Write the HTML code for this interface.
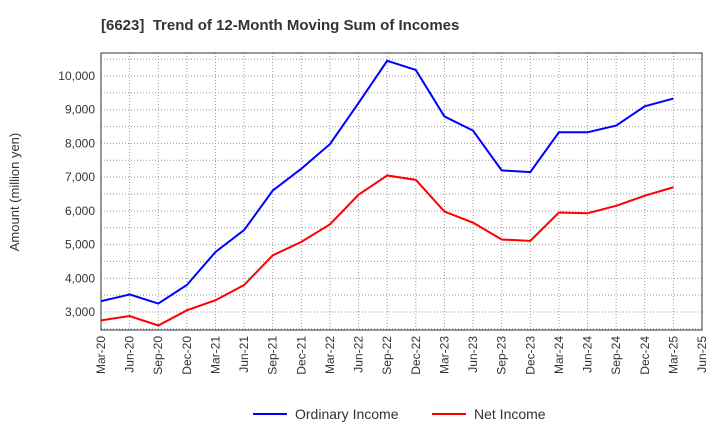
<!DOCTYPE html>
<html><head><meta charset="utf-8"><style>
body{margin:0;background:#fff;font-family:"Liberation Sans",sans-serif;}
svg text{font-family:"Liberation Sans",sans-serif;}
</style></head><body>
<svg id="chart" width="720" height="440" xmlns="http://www.w3.org/2000/svg">
<text x="101" y="30" font-size="15" font-weight="bold" fill="#333">[6623]&#160; Trend of 12-Month Moving Sum of Incomes</text>
<text transform="translate(19,192) rotate(-90)" text-anchor="middle" font-size="13" fill="#333">Amount (million yen)</text>
<g id="grid"></g><g id="axes"></g><g id="series"></g>
<g>
<line x1="253" y1="414" x2="287" y2="414" stroke="#0000ff" stroke-width="2"/>
<text x="295" y="419" font-size="14" fill="#333">Ordinary Income</text>
<line x1="432" y1="414" x2="466" y2="414" stroke="#ff0000" stroke-width="2"/>
<text x="474" y="419" font-size="14" fill="#333">Net Income</text>
</g>
</svg>
<script>
const categories=["Mar-20","Jun-20","Sep-20","Dec-20","Mar-21","Jun-21","Sep-21","Dec-21","Mar-22","Jun-22","Sep-22","Dec-22","Mar-23","Jun-23","Sep-23","Dec-23","Mar-24","Jun-24","Sep-24","Dec-24","Mar-25","Jun-25"];
const ordinaryIncome=[3320,3520,3250,3800,4780,5430,6600,7250,7980,9200,10450,10180,8800,8380,7200,7150,8330,8330,8530,9100,9330];
const netIncome=[2750,2880,2600,3050,3350,3800,4680,5080,5600,6480,7050,6920,5980,5650,5150,5110,5950,5930,6150,6450,6700];
const yTicks=[3000,4000,5000,6000,7000,8000,9000,10000];
const NS="http://www.w3.org/2000/svg";
const L=101,R=702,T=53,B=330,yMin=2466,yMax=10682;
const x=i=>L+(R-L)*i/(categories.length-1);
const y=v=>B-(v-yMin)/(yMax-yMin)*(B-T);
function mk(tag,attrs,parent){const e=document.createElementNS(NS,tag);for(const k in attrs)e.setAttribute(k,attrs[k]);parent.appendChild(e);return e;}
const grid=document.getElementById('grid'),axes=document.getElementById('axes'),series=document.getElementById('series');
for(let i=1;i<categories.length-1;i++){const l=mk('line',{x1:x(i),x2:x(i),y1:T,y2:B,stroke:'#999','stroke-dasharray':'1,2'},grid);

}
for(let v=2500;v<=10500;v+=500){const l=mk('line',{x1:L,x2:R,y1:y(v),y2:y(v),stroke:'#999','stroke-dasharray':'1,2'},grid);

}
const frame=mk('rect',{x:L,y:T,width:R-L,height:B-T,fill:'none',stroke:'#333'},axes);


yTicks.forEach(v=>{const t=mk('text',{x:L-6,y:y(v)+4,'text-anchor':'end','font-size':'12',fill:'#333'},axes);t.textContent=v.toLocaleString('en-US');

});
categories.forEach((c,i)=>{const t=mk('text',{transform:`translate(${x(i)+4},${B+6}) rotate(-90)`,'text-anchor':'end','font-size':'12',fill:'#333'},axes);t.textContent=c;

});
function line(data,color,name){const p=mk('polyline',{points:data.map((v,i)=>x(i)+','+y(v)).join(' '),fill:'none',stroke:color,'stroke-width':2},series);

}
line(ordinaryIncome,'#0000ff','ordinary-income-line');
line(netIncome,'#ff0000','net-income-line');
</script>
</body></html>
